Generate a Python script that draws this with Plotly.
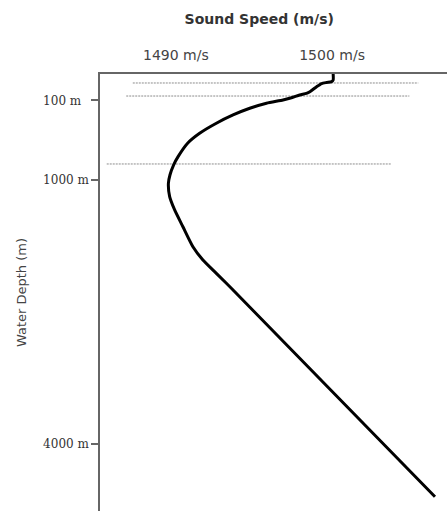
import plotly.graph_objects as go

# Sound-speed profile
depth_m = [-200, -132, -113, -104, -92, -56, 1, 19, 38, 69, 95, 132, 189, 265, 359,
           473, 586, 738, 833, 946, 1040, 1192, 1343, 1533, 1760, 1911, 2062, 2232, 4597]
speed_ms = [1500.07, 1500.07, 1499.97, 1499.65, 1499.33, 1499.01, 1498.58, 1498.36,
            1497.93, 1497.40, 1496.86, 1495.80, 1494.73, 1493.66, 1492.59, 1491.52,
            1490.75, 1490.14, 1489.85, 1489.62, 1489.52, 1489.60, 1489.92, 1490.45,
            1491.09, 1491.73, 1492.59, 1493.55, 1506.59]

# dotted layer markers: depth, start speed, end speed
layer_depth = [-98, 50, 821]
layer_start = [1487.24, 1486.82, 1485.57]
layer_end = [1505.52, 1504.95, 1503.82]

x_tickvals = [1490, 1500]
x_ticktext = ["1490 m/s", "1500 m/s"]
y_tickvals = [100, 1000, 4000]
y_ticktext = ["100 m\u2007", "1000 m", "4000 m"]

fig = go.Figure()

lx, ly = [], []
for d, a, b in zip(layer_depth, layer_start, layer_end):
    lx += [a, b, None]
    ly += [d, d, None]
fig.add_trace(go.Scatter(x=lx, y=ly, mode="lines",
                         line=dict(color="#8c8c8c", width=1, dash="2px,1px"),
                         hoverinfo="skip", showlegend=False))

fig.add_trace(go.Scatter(x=speed_ms, y=depth_m, mode="lines",
                         line=dict(color="#000000", width=3, shape="spline", smoothing=0.6),
                         showlegend=False))

fig.update_layout(
    width=447, height=511,
    margin=dict(l=100, r=0, t=74, b=0, autoexpand=False),
    paper_bgcolor="white", plot_bgcolor="white",
    title=dict(text="<b>Sound Speed (m/s)</b>", x=0.58, xanchor="center",
               y=1 - 19 / 511, yanchor="middle", yref="container",
               font=dict(family="DejaVu Sans", size=14, color="#333333")),
    xaxis=dict(side="top", range=[1485.14, 1507.36], tickvals=x_tickvals,
               ticktext=x_ticktext, ticks="", showline=True, linecolor="#666666",
               linewidth=1.5, showgrid=False, zeroline=False, ticklabelstandoff=7,
               automargin=False,
               tickfont=dict(family="DejaVu Sans", size=14, color="#444444")),
    yaxis=dict(range=[4759, -200], tickvals=y_tickvals, ticktext=y_ticktext,
               ticks="outside", ticklen=7, tickcolor="#666666", tickwidth=1.5,
               showline=True, linecolor="#666666", linewidth=1.5,
               showgrid=False, zeroline=False, automargin=False,
               tickfont=dict(family="DejaVu Serif", size=12, color="#333333"),
               title=dict(text="Water Depth (m)", standoff=14,
                          font=dict(family="DejaVu Sans", size=13, color="#444444"))),
)

fig.write_html("out.html", config={"displayModeBar": False},
               post_script="document.body.style.margin='0';")
